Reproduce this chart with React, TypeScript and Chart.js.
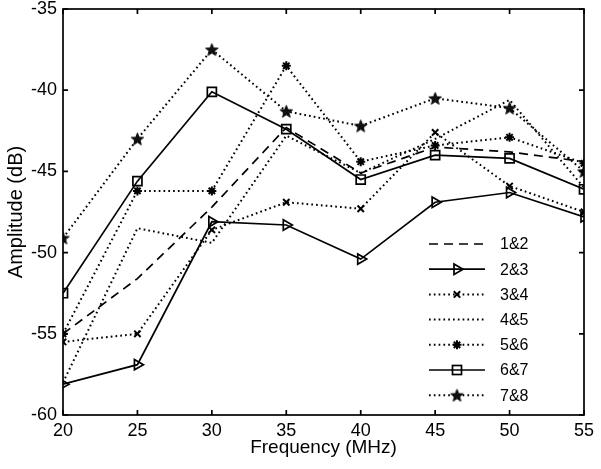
import React, { useEffect, useRef } from 'react';
import { Chart, registerables } from 'chart.js';

Chart.register(...registerables);

// ---- data ----
const frequencies = [20, 25, 30, 35, 40, 45, 50, 55];
const seriesNames = ['1&2', '2&3', '3&4', '4&5', '5&6', '6&7', '7&8'];
const s12 = [-55.0, -51.6, -47.2, -42.3, -45.1, -43.5, -43.8, -44.4];
const s23 = [-58.1, -56.9, -48.1, -48.3, -50.4, -46.9, -46.3, -47.8];
const s34 = [-55.5, -55.0, -48.6, -46.9, -47.3, -42.6, -45.9, -47.5];
const s45 = [-58.0, -48.5, -49.4, -42.8, -45.1, -43.0, -40.6, -46.0];
const s56 = [-55.0, -46.2, -46.2, -38.5, -44.4, -43.4, -42.9, -44.5];
const s67 = [-52.5, -45.6, -40.1, -42.4, -45.5, -44.0, -44.2, -46.1];
const s78 = [-49.1, -43.0, -37.5, -41.3, -42.2, -40.5, -41.1, -45.0];
const seriesValues = [s12, s23, s34, s45, s56, s67, s78];
const xTicks = [20, 25, 30, 35, 40, 45, 50, 55];
const yTicks = [-60, -55, -50, -45, -40, -35];

// ---- styles ----
const FONT = "'Liberation Sans', Arial, Helvetica, sans-serif";
const INK = '#000';
const DOT = [1.7, 3.1];
const DASH = [9, 6];
type Style = { dash: number[]; width: number; marker: string };
const styles: Style[] = [
  { dash: DASH, width: 1.7, marker: 'none' },
  { dash: [], width: 1.7, marker: 'triangleRight' },
  { dash: DOT, width: 2, marker: 'x' },
  { dash: DOT, width: 2, marker: 'none' },
  { dash: DOT, width: 2, marker: 'asterisk' },
  { dash: [], width: 1.7, marker: 'square' },
  { dash: DOT, width: 2, marker: 'pentagram' },
];

function makePentagram(size: number): HTMLCanvasElement {
  const c = document.createElement('canvas');
  c.width = size;
  c.height = size;
  const ctx = c.getContext('2d')!;
  const cx = size / 2;
  const cy = size / 2 + 0.6;
  const R = size / 2 - 1;
  const r = R * 0.42;
  ctx.beginPath();
  for (let i = 0; i < 10; i++) {
    const rad = i % 2 === 0 ? R : r;
    const a = -Math.PI / 2 + (i * Math.PI) / 5;
    const px = cx + rad * Math.cos(a);
    const py = cy + rad * Math.sin(a);
    if (i === 0) ctx.moveTo(px, py);
    else ctx.lineTo(px, py);
  }
  ctx.closePath();
  ctx.fillStyle = '#111';
  ctx.fill();
  ctx.lineWidth = 1;
  ctx.strokeStyle = INK;
  ctx.stroke();
  return c;
}

function drawMarker(ctx: CanvasRenderingContext2D, kind: string, x: number, y: number, star: HTMLCanvasElement) {
  ctx.save();
  ctx.setLineDash([]);
  ctx.strokeStyle = INK;
  ctx.lineWidth = 1.7;
  if (kind === 'triangleRight') {
    const r = 6;
    ctx.beginPath();
    ctx.moveTo(x + r, y);
    ctx.lineTo(x - r * 0.5, y - r * 0.87);
    ctx.lineTo(x - r * 0.5, y + r * 0.87);
    ctx.closePath();
    ctx.stroke();
  } else if (kind === 'x') {
    const r = 3.2;
    ctx.lineWidth = 2;
    ctx.beginPath();
    ctx.moveTo(x - r, y - r);
    ctx.lineTo(x + r, y + r);
    ctx.moveTo(x + r, y - r);
    ctx.lineTo(x - r, y + r);
    ctx.stroke();
  } else if (kind === 'asterisk') {
    const r = 4.5;
    ctx.lineWidth = 2;
    ctx.beginPath();
    for (let i = 0; i < 4; i++) {
      const a = (i * Math.PI) / 4;
      ctx.moveTo(x - r * Math.cos(a), y - r * Math.sin(a));
      ctx.lineTo(x + r * Math.cos(a), y + r * Math.sin(a));
    }
    ctx.stroke();
  } else if (kind === 'square') {
    const h = 4.5;
    ctx.strokeRect(x - h, y - h, 2 * h, 2 * h);
  } else if (kind === 'pentagram') {
    ctx.drawImage(star, x - star.width / 2, y - star.height / 2);
  }
  ctx.restore();
}

export default function App() {
  const ref = useRef<HTMLCanvasElement | null>(null);

  useEffect(() => {
    const canvas = ref.current;
    if (!canvas) return;
    const star = makePentagram(15);

    const pointStyleFor = (m: string): any => {
      switch (m) {
        case 'triangleRight':
          return 'triangle';
        case 'x':
          return 'crossRot';
        case 'asterisk':
          return 'star';
        case 'square':
          return 'rect';
        case 'pentagram':
          return star;
        default:
          return false;
      }
    };
    const radiusFor = (m: string) => {
      switch (m) {
        case 'triangleRight':
          return 6;
        case 'x':
          return 4.5;
        case 'asterisk':
          return 4.5;
        case 'square':
          return 6.4;
        case 'pentagram':
          return 7;
        default:
          return 0;
      }
    };

    const datasets = seriesNames.map((name, i) => {
      const st = styles[i];
      return {
        label: name,
        data: frequencies.map((f, j) => ({ x: f, y: seriesValues[i][j] })),
        borderColor: INK,
        backgroundColor: 'rgba(0,0,0,0)',
        borderWidth: st.width,
        borderDash: st.dash,
        borderCapStyle: 'butt' as const,
        tension: 0,
        fill: false,
        pointStyle: pointStyleFor(st.marker),
        pointRadius: radiusFor(st.marker),
        pointHoverRadius: radiusFor(st.marker),
        pointRotation: st.marker === 'triangleRight' ? 90 : 0,
        pointBorderColor: INK,
        pointBackgroundColor: 'rgba(0,0,0,0)',
        pointBorderWidth: st.marker === 'x' || st.marker === 'asterisk' ? 2 : 1.7,
      };
    });

    const framePlugin = {
      id: 'frameTicks',
      afterDatasetsDraw(chart: any) {
        const { ctx, chartArea } = chart;
        const { left, right, top, bottom } = chartArea;
        const xs = chart.scales.x;
        const ys = chart.scales.y;
        ctx.save();
        ctx.setLineDash([]);
        ctx.strokeStyle = INK;
        ctx.lineWidth = 1.7;
        ctx.strokeRect(left, top, right - left, bottom - top);
        const L = 5;
        ctx.beginPath();
        xTicks.forEach((v) => {
          const px = xs.getPixelForValue(v);
          ctx.moveTo(px, bottom);
          ctx.lineTo(px, bottom - L);
          ctx.moveTo(px, top);
          ctx.lineTo(px, top + L);
        });
        yTicks.forEach((v) => {
          const py = ys.getPixelForValue(v);
          ctx.moveTo(left, py);
          ctx.lineTo(left + L, py);
          ctx.moveTo(right, py);
          ctx.lineTo(right - L, py);
        });
        ctx.stroke();

        // legend
        const lx0 = right - 155;
        const lx1 = right - 99;
        const tx = right - 84;
        const y0 = 244;
        const dy = 25.2;
        ctx.font = `16px ${FONT}`;
        ctx.fillStyle = INK;
        ctx.textBaseline = 'middle';
        ctx.textAlign = 'left';
        seriesNames.forEach((name, i) => {
          const st = styles[i];
          const y = y0 + i * dy;
          ctx.save();
          ctx.setLineDash(st.dash);
          ctx.lineWidth = st.width;
          ctx.strokeStyle = INK;
          ctx.beginPath();
          ctx.moveTo(lx0, y);
          ctx.lineTo(lx1, y);
          ctx.stroke();
          ctx.restore();
          drawMarker(ctx, st.marker, (lx0 + lx1) / 2, y, star);
          ctx.fillText(name, tx, y + 1);
        });
        ctx.restore();
      },
    };

    const chart = new Chart(canvas, {
      type: 'line',
      data: { datasets: datasets as any },
      options: {
        animation: false,
        responsive: false,
        maintainAspectRatio: false,
        layout: { padding: { left: 0, top: 9, right: 17, bottom: 0 } },
        plugins: {
          legend: { display: false },
          tooltip: { enabled: false },
          title: { display: false },
        },
        scales: {
          x: {
            type: 'linear',
            min: 20,
            max: 55,
            afterBuildTicks: (scale: any) => {
              scale.ticks = xTicks.map((v) => ({ value: v }));
            },
            afterFit: (scale: any) => {
              scale.height = 54;
              scale.paddingLeft = 0;
              scale.paddingRight = 0;
            },
            grid: { display: false, drawTicks: false },
            border: { display: false },
            ticks: {
              color: INK,
              padding: 5,
              maxRotation: 0,
              autoSkip: false,
              font: { family: FONT, size: 18 },
            },
            title: {
              display: true,
              text: 'Frequency (MHz)',
              color: INK,
              font: { family: FONT, size: 19 },
              padding: { top: 0, bottom: 10 },
            },
          },
          y: {
            type: 'linear',
            min: -60,
            max: -35,
            afterBuildTicks: (scale: any) => {
              scale.ticks = yTicks.map((v) => ({ value: v }));
            },
            afterFit: (scale: any) => {
              scale.width = 63;
              scale.paddingTop = 0;
              scale.paddingBottom = 0;
            },
            grid: { display: false, drawTicks: false },
            border: { display: false },
            ticks: {
              color: INK,
              padding: 6,
              autoSkip: false,
              font: { family: FONT, size: 18 },
            },
            title: {
              display: true,
              text: 'Amplitude (dB)',
              color: INK,
              font: { family: FONT, size: 20 },
              padding: { top: 4, bottom: 0 },
            },
          },
        },
      },
      plugins: [framePlugin],
    });
    return () => chart.destroy();
  }, []);

  return (
    <div style={{ position: 'absolute', left: 0, top: 0, width: 601, height: 469, background: '#fff' }}>
      <canvas ref={ref} width={601} height={469} style={{ display: 'block' }} />
    </div>
  );
}
